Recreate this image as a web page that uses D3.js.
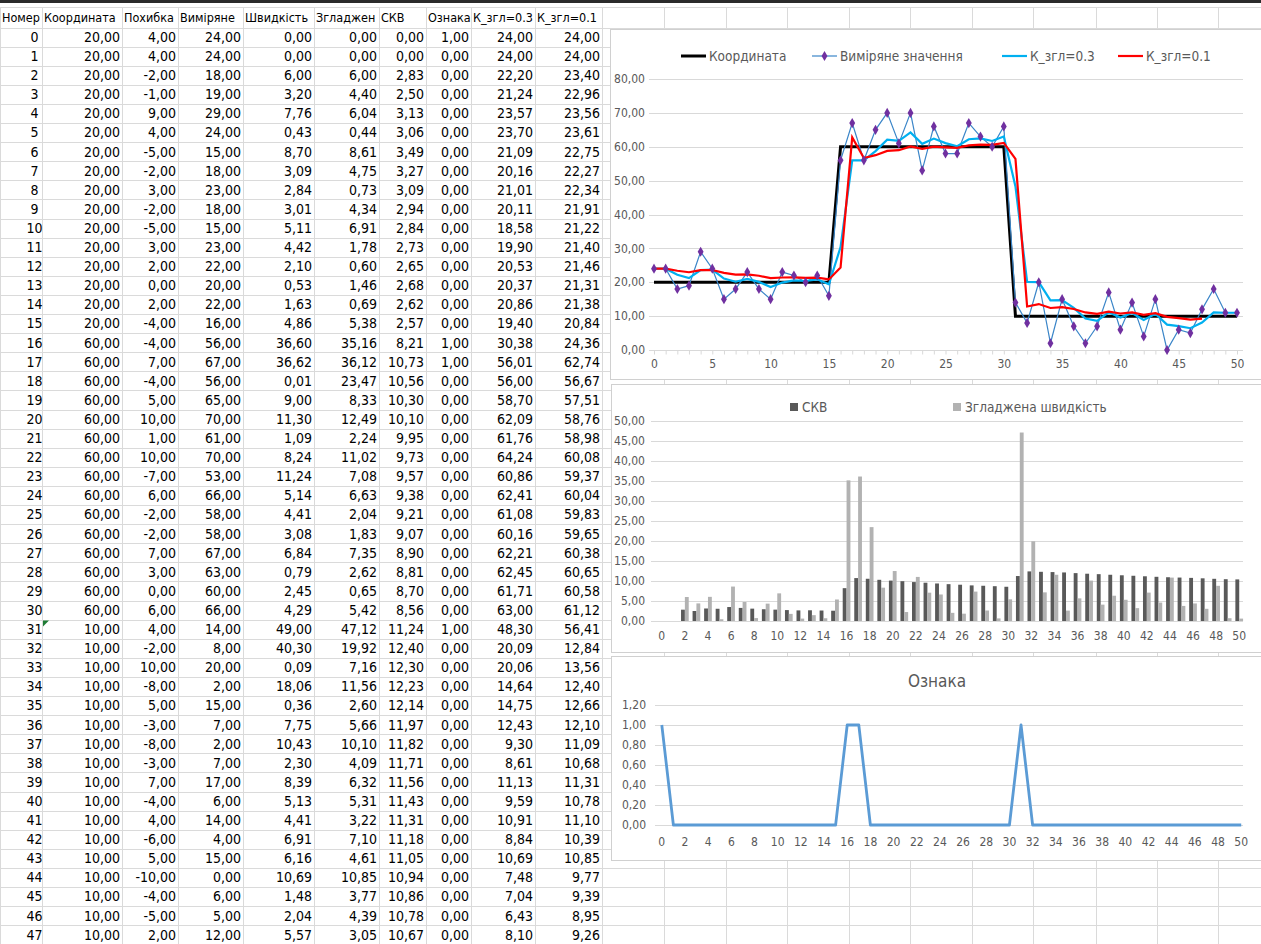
<!DOCTYPE html>
<html>
<head>
<meta charset="utf-8">
<script src="https://cdn.jsdelivr.net/npm/d3@7"></script>
<style>
body { margin: 0; background: #fff; }
svg text { font-family: "Liberation Sans Narrow", "DejaVu Sans Condensed", Roboto, sans-serif; }
</style>
</head>
<body>
<svg id="sheet" width="1261" height="944"></svg>
<script>
// table headers
const headers = ["Номер", "Координата", "Похибка", "Виміряне значення", "Швидкість",
                 "Згладжена швидкість", "СКВ", "Ознака", "К_згл=0.3", "К_згл=0.1"];

// columns (rows 0..47 are in the table, charts run to 50)
const coord = [20,20,20,20,20,20,20,20,20,20,20,20,20,20,20,20,
               60,60,60,60,60,60,60,60,60,60,60,60,60,60,60,
               10,10,10,10,10,10,10,10,10,10,10,10,10,10,10,10,10,10,10,10];
const errs = [4,4,-2,-1,9,4,-5,-2,3,-2,-5,3,2,0,2,-4,-4,7,-4,5,10,1,10,-7,6,-2,-2,7,3,0,6,
              4,-2,10,-8,5,-3,-8,-3,7,-4,4,-6,5,-10,-4,-5,2];
const measured = [24,24,18,19,29,24,15,18,23,18,15,23,22,20,22,16,56,67,56,65,70,61,70,53,66,58,58,67,63,60,66,
                  14,8,20,2,15,7,2,7,17,6,14,4,15,0,6,5,12,18,11,11];
const speed = [0,0,6,3.2,7.76,0.43,8.70,3.09,2.84,3.01,5.11,4.42,2.10,0.53,1.63,4.86,36.60,36.62,0.01,9.00,
               11.30,1.09,8.24,11.24,5.14,4.41,3.08,6.84,0.79,2.45,4.29,49.00,40.30,0.09,18.06,0.36,7.75,
               10.43,2.30,8.39,5.13,4.41,6.91,6.16,10.69,1.48,2.04,5.57];
const smoothSpeed = [0,0,6,4.40,6.04,0.44,8.61,4.75,0.73,4.34,6.91,1.78,0.60,1.46,0.69,5.38,35.16,36.12,23.47,
                     8.33,12.49,2.24,11.02,7.08,6.63,2.04,1.83,7.35,2.62,0.65,5.42,47.12,19.92,7.16,11.56,2.60,
                     5.66,10.10,4.09,6.32,5.31,3.22,7.10,4.61,10.85,3.77,4.39,3.05,8.8,0.7,0.6];
const skv = [0,0,2.83,2.50,3.13,3.06,3.49,3.27,3.09,2.94,2.84,2.73,2.65,2.68,2.62,2.57,8.21,10.73,10.56,10.30,
             10.10,9.95,9.73,9.57,9.38,9.21,9.07,8.90,8.81,8.70,8.56,11.24,12.40,12.30,12.23,12.14,11.97,11.82,
             11.71,11.56,11.43,11.31,11.18,11.05,10.94,10.86,10.78,10.67,10.55,10.45,10.4];
const flag = [1,0,0,0,0,0,0,0,0,0,0,0,0,0,0,0,1,1,0,0,0,0,0,0,0,0,0,0,0,0,0,
              1,0,0,0,0,0,0,0,0,0,0,0,0,0,0,0,0,0,0,0];
const k03 = [24,24,22.20,21.24,23.57,23.70,21.09,20.16,21.01,20.11,18.58,19.90,20.53,20.37,20.86,19.40,30.38,
             56.01,56.00,58.70,62.09,61.76,64.24,60.86,62.41,61.08,60.16,62.21,62.45,61.71,63.00,48.30,20.09,
             20.06,14.64,14.75,12.43,9.30,8.61,11.13,9.59,10.91,8.84,10.69,7.48,7.04,6.43,8.10,11.1,11.0,11.0];
const k01 = [24,24,23.40,22.96,23.56,23.61,22.75,22.27,22.34,21.91,21.22,21.40,21.46,21.31,21.38,20.84,24.36,
             62.74,56.67,57.51,58.76,58.98,60.08,59.37,60.04,59.83,59.65,60.38,60.65,60.58,61.12,56.41,12.84,
             13.56,12.40,12.66,12.10,11.09,10.68,11.31,10.78,11.10,10.39,10.85,9.77,9.39,8.95,9.26];
const tableRows = 48;

// layout
const colEdges = [0,42,122,178,243,314,379,426,471,535,602,664,726,787,849,910,972,1033,1096,1157,1218,1280];
const headTop = 7, rowTop = 27.5, rowH = 19.1;
const gridColor = "#dadada", axisText = "#595959";

// excel-like number format: comma decimal, plain hyphen minus
const locale = d3.formatLocale({decimal: ",", thousands: " ", grouping: [3], currency: ["", ""], minus: "-"});
const fmt = locale.format(".2f");
const svg = d3.select("#sheet");

svg.append("rect").attr("width", 1261).attr("height", 944).attr("fill", "#fff");

//sheet grid
const grid = svg.append("g");
grid.selectAll("line.v").data(colEdges).join("line")
    .attr("x1", d => d + 0.5).attr("x2", d => d + 0.5)
    .attr("y1", headTop).attr("y2", 944)
    .attr("stroke", gridColor);
const rowLines = [headTop].concat(d3.range(0, 52).map(i => rowTop + i * rowH));
grid.selectAll("line.h").data(rowLines).join("line")
    .attr("x1", 0).attr("x2", 1261)
    .attr("y1", d => Math.round(d) + 0.5).attr("y2", d => Math.round(d) + 0.5)
    .attr("stroke", gridColor);
svg.append("rect").attr("x", 0).attr("y", 0).attr("width", 1261).attr("height", 3).attr("fill", "#2b2b2b");

//header cells: cut the text where the next cell starts, like excel does
headers.forEach((h, i) => {
    const room = colEdges[i + 1] - colEdges[i] - 1.5;
    const t = svg.append("text")
        .attr("x", colEdges[i] + 2).attr("y", (headTop + rowTop) / 2)
        .attr("dy", "0.35em").attr("font-size", 12.5).attr("fill", "#000")
        .text(h);
    let s = h;
    while (s.length > 1 && t.node().getComputedTextLength() > room) {
        s = s.slice(0, -1);
        t.text(s);
    }
});

//body cells
const columns = [null, coord, errs, measured, speed, smoothSpeed, skv, flag, k03, k01];
const body = svg.append("g").attr("font-size", 14).attr("fill", "#000");
d3.range(tableRows).forEach(r => {
    const cy = rowTop + r * rowH + rowH / 2;
    body.append("text").attr("x", 34.5).attr("y", cy).attr("dy", "0.35em")
        .attr("text-anchor", "middle").text(r);
    columns.forEach((col, c) => {
        if (!col) return;
        body.append("text").attr("x", colEdges[c + 1] - 2).attr("y", cy).attr("dy", "0.35em")
            .attr("text-anchor", "end").text(fmt(col[r]));
    });
});
// excel "number as text" marker
const r31 = rowTop + 31 * rowH;
svg.append("path").attr("d", `M43,${r31 + 1}h6l-6,6z`).attr("fill", "#1e7b34");

function frame(x, y, w, h) {
    svg.append("rect").attr("x", x + 0.5).attr("y", y + 0.5).attr("width", w).attr("height", h)
        .attr("fill", "#fff").attr("stroke", "#d0d0d0");
}
const idx = d3.range(51);

/* ---------- chart 1: coordinate & smoothing ---------- */
frame(610, 29, 660, 350);
const x1 = d3.scaleLinear([0, 50], [654, 1237]);
const y1 = d3.scaleLinear([0, 80], [350, 79]);
const c1 = svg.append("g");
c1.append("g").selectAll("line").data(d3.range(10, 81, 10)).join("line")
    .attr("x1", 649).attr("x2", 1243)
    .attr("y1", d => Math.round(y1(d)) + 0.5).attr("y2", d => Math.round(y1(d)) + 0.5)
    .attr("stroke", "#d9d9d9");
c1.append("g").selectAll("text").data(d3.range(0, 81, 10)).join("text")
    .attr("x", 645).attr("y", d => y1(d)).attr("dy", "0.35em")
    .attr("text-anchor", "end").attr("font-size", 12).attr("fill", axisText)
    .text(fmt);
const ax1 = c1.append("g").attr("transform", `translate(0,${Math.round(y1(0)) + 0.5})`)
    .call(d3.axisBottom(x1).tickValues(idx).tickSizeInner(4).tickSizeOuter(0).tickPadding(5)
        .tickFormat(d => d % 5 === 0 ? d : ""));
ax1.select(".domain").attr("stroke", "#d9d9d9").attr("d", "M649,0H1243");
ax1.selectAll(".tick line").attr("stroke", "#d9d9d9");
ax1.selectAll("text").attr("font-size", 12).attr("fill", axisText);

const line1 = d3.line().x((d, i) => x1(i)).y(d => y1(d));
c1.append("path").attr("d", line1(coord)).attr("fill", "none").attr("stroke", "#000").attr("stroke-width", 3);
c1.append("path").attr("d", line1(measured)).attr("fill", "none").attr("stroke", "#3a85c8").attr("stroke-width", 1.2);
c1.append("path").attr("d", line1(k03)).attr("fill", "none").attr("stroke", "#00b0f0").attr("stroke-width", 2.2);
c1.append("path").attr("d", line1(k01)).attr("fill", "none").attr("stroke", "#ff0000").attr("stroke-width", 2.2);
const diamond = d3.symbol(d3.symbolDiamond, 30);
c1.append("g").selectAll("path").data(measured).join("path")
    .attr("d", diamond).attr("fill", "#7030a0")
    .attr("transform", (d, i) => `translate(${x1(i)},${y1(d)})`);

// legend
const leg1 = [
    {name: "Координата", color: "#000", w: 3, x: 681},
    {name: "Виміряне значення", color: "#3a85c8", w: 1.2, x: 812, marker: true},
    {name: "К_згл=0.3", color: "#00b0f0", w: 2.2, x: 1002},
    {name: "К_згл=0.1", color: "#ff0000", w: 2.2, x: 1118}
];
const lg1 = c1.append("g").selectAll("g").data(leg1).join("g")
    .attr("transform", d => `translate(${d.x},56)`);
lg1.append("line").attr("x1", 0).attr("x2", 25).attr("stroke", d => d.color).attr("stroke-width", d => d.w);
lg1.filter(d => d.marker).append("path").attr("d", diamond).attr("fill", "#7030a0")
    .attr("transform", "translate(12.5,0)");
lg1.append("text").attr("x", 28).attr("dy", "0.35em").attr("font-size", 13.5).attr("fill", axisText)
    .text(d => d.name);

/* ---------- chart 2: SKV & smoothed speed ---------- */
frame(611, 384, 660, 268);
const x2 = d3.scaleBand(idx, [656, 1245]);
const x2in = d3.scaleBand(["skv", "speed"], [0, x2.bandwidth()]).paddingOuter(0.5);
const y2 = d3.scaleLinear([0, 50], [621, 421]);
const c2 = svg.append("g");
c2.append("g").selectAll("line").data(d3.range(5, 51, 5)).join("line")
    .attr("x1", 651).attr("x2", 1243)
    .attr("y1", d => Math.round(y2(d)) + 0.5).attr("y2", d => Math.round(y2(d)) + 0.5)
    .attr("stroke", "#d9d9d9");
c2.append("g").selectAll("text").data(d3.range(0, 51, 5)).join("text")
    .attr("x", 645).attr("y", d => y2(d)).attr("dy", "0.35em")
    .attr("text-anchor", "end").attr("font-size", 12).attr("fill", axisText)
    .text(fmt);
const barColors = {skv: "#595959", speed: "#b2b2b2"};
const barData = idx.flatMap(i => [
    {i, key: "skv", v: skv[i]},
    {i, key: "speed", v: smoothSpeed[i]}
]);
c2.append("g").selectAll("rect").data(barData).join("rect")
    .attr("x", d => x2(d.i) + x2in(d.key))
    .attr("width", x2in.bandwidth())
    .attr("y", d => y2(d.v)).attr("height", d => y2(0) - y2(d.v))
    .attr("fill", d => barColors[d.key]);
const ax2 = c2.append("g").attr("transform", `translate(0,${Math.round(y2(0)) + 0.5})`)
    .call(d3.axisBottom(x2).tickValues(d3.range(0, 51, 2)).tickSize(0).tickPadding(10));
ax2.select(".domain").attr("stroke", "#d9d9d9").attr("d", "M651,0H1243");
ax2.selectAll("text").attr("font-size", 12).attr("fill", axisText);

const leg2 = [{name: "СКВ", key: "skv", x: 790}, {name: "Згладжена швидкість", key: "speed", x: 953}];
const lg2 = c2.append("g").selectAll("g").data(leg2).join("g")
    .attr("transform", d => `translate(${d.x},407)`);
lg2.append("rect").attr("y", -4).attr("width", 8).attr("height", 8).attr("fill", d => barColors[d.key]);
lg2.append("text").attr("x", 12).attr("dy", "0.35em").attr("font-size", 13.5).attr("fill", axisText)
    .text(d => d.name);

/* ---------- chart 3: flag ---------- */
frame(611, 656, 660, 204);
const x3 = d3.scaleBand(idx, [656, 1247]);
const y3 = d3.scaleLinear([0, 1.2], [825, 705]);
const c3 = svg.append("g");
c3.append("text").attr("x", 937).attr("y", 681).attr("dy", "0.35em").attr("text-anchor", "middle")
    .attr("font-size", 17).attr("fill", axisText).text("Ознака");
c3.append("g").selectAll("line").data(d3.range(1, 7).map(d => d * 0.2)).join("line")
    .attr("x1", 655).attr("x2", 1243)
    .attr("y1", d => Math.round(y3(d)) + 0.5).attr("y2", d => Math.round(y3(d)) + 0.5)
    .attr("stroke", "#d9d9d9");
c3.append("g").selectAll("text").data(d3.range(0, 7).map(d => d * 0.2)).join("text")
    .attr("x", 646).attr("y", d => y3(d)).attr("dy", "0.35em")
    .attr("text-anchor", "end").attr("font-size", 12).attr("fill", axisText)
    .text(fmt);
const ax3 = c3.append("g").attr("transform", `translate(0,${Math.round(y3(0)) + 0.5})`)
    .call(d3.axisBottom(x3).tickValues(d3.range(0, 51, 2)).tickSize(0).tickPadding(12));
ax3.select(".domain").attr("stroke", "#d9d9d9").attr("d", "M655,0H1243");
ax3.selectAll("text").attr("font-size", 12).attr("fill", axisText);
const line3 = d3.line().x((d, i) => x3(i) + x3.bandwidth() / 2).y(d => y3(d));
c3.append("path").attr("d", line3(flag)).attr("fill", "none")
    .attr("stroke", "#5b9bd5").attr("stroke-width", 2.8).attr("stroke-linejoin", "round");
</script>
</body>
</html>
